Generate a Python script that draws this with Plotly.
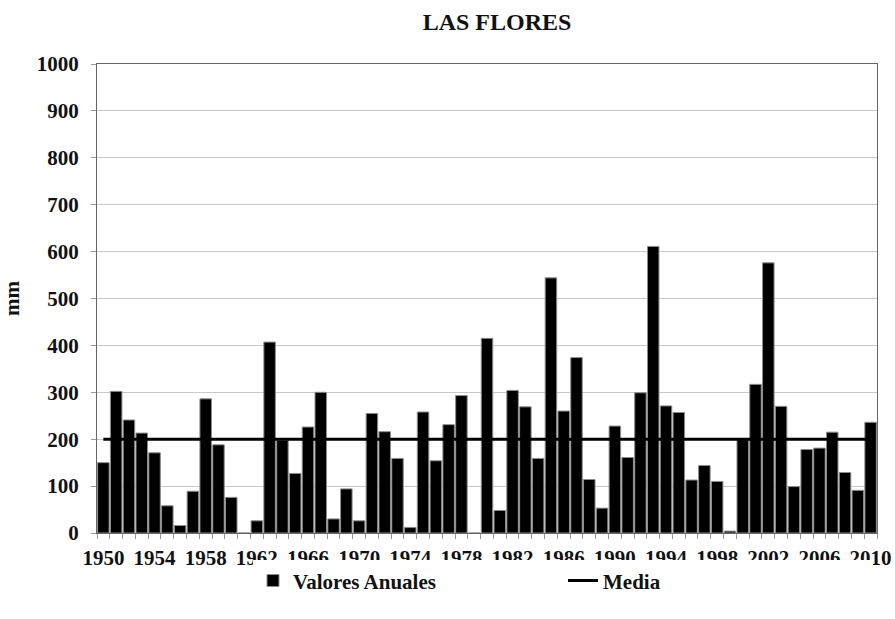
import plotly.graph_objects as go

# Annual precipitation, Las Flores (mm)
years = list(range(1950, 2011))
valores_anuales = [
    150, 302, 241, 213, 171, 58, 16, 89, 286, 188,   # 1950-1959
    76, 0, 26, 407, 198, 127, 226, 300, 30, 94,      # 1960-1969
    26, 255, 216, 159, 12, 258, 154, 231, 293, 0,    # 1970-1979
    415, 48, 304, 269, 159, 544, 260, 374, 114, 53,  # 1980-1989
    228, 161, 299, 611, 271, 257, 113, 144, 110, 4,  # 1990-1999
    199, 317, 576, 270, 99, 178, 181, 215, 129, 91,  # 2000-2009
    236,                                             # 2010
]
media = 200
tick_years = list(range(1950, 2011, 4))

serif = 'Liberation Serif'
ink = '#111111'

fig = go.Figure()
fig.add_trace(go.Bar(x=years, y=valores_anuales, name='Valores Anuales',
                     marker=dict(color='black', line=dict(color='#8c8c8c', width=1))))
fig.add_trace(go.Scatter(x=years, y=[media] * len(years), name='Media', mode='lines',
                         line=dict(color='black', width=3)))

fig.update_layout(
    width=895, height=619,
    margin=dict(l=97, r=18, t=64, b=86),
    paper_bgcolor='white', plot_bgcolor='white',
    font=dict(family=serif, size=21, color=ink, weight='bold'),
    bargap=0.1,
    title=dict(text='LAS FLORES', x=497 / 895, xanchor='center', xref='container',
               y=1 - 22 / 619, yanchor='middle', yref='container',
               font=dict(family=serif, size=24, color=ink, weight='bold')),
    legend=dict(orientation='h', x=0.2, xanchor='left', y=-0.102, yanchor='middle',
                entrywidth=265, entrywidthmode='pixels',
                font=dict(family=serif, size=21, color=ink, weight='bold')),
    showlegend=True,
)
fig.update_xaxes(range=[1949.5, 2010.5], tickvals=tick_years, ticks='', showgrid=False,
                 showline=True, linecolor='#666666', linewidth=1, mirror=True,
                 automargin=False, ticklabelstandoff=6,
                 minor=dict(tick0=1949.5, dtick=1, ticks='outside', ticklen=5,
                            tickcolor='#999999', showgrid=False),
                 tickfont=dict(family=serif, size=21, color=ink, weight='bold'))
fig.update_yaxes(range=[0, 1000], dtick=100, showgrid=True, gridcolor='#c8c8c8', gridwidth=1,
                 showline=True, linecolor='#666666', linewidth=1, mirror=True,
                 ticks='outside', ticklen=5, tickcolor='#999999', ticklabelstandoff=8,
                 zeroline=False, automargin=False,
                 title=dict(text='mm', standoff=20, font=dict(family=serif, size=21, color=ink, weight='bold')),
                 tickfont=dict(family=serif, size=21, color=ink, weight='bold'))

# drop the default page margin so the figure sits at the window's corner
fig.write_html('out.html', config={'displayModeBar': False},
               post_script="document.body.style.margin='0';")
